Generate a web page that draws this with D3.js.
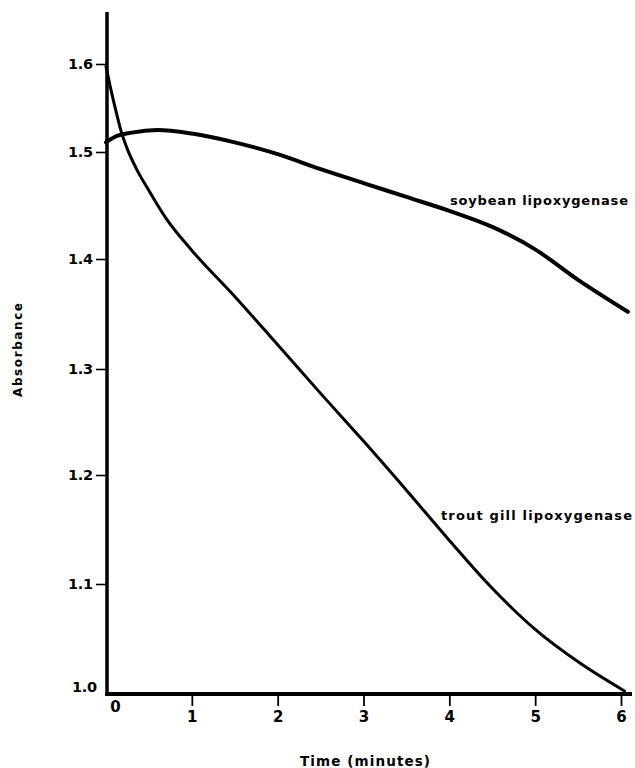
<!DOCTYPE html>
<html>
<head>
<meta charset="utf-8">
<script src="https://cdn.jsdelivr.net/npm/d3@7"></script>
<style>
  body { margin: 0; background: #fff; }
  svg text { font-family: "DejaVu Sans", "Liberation Sans", sans-serif; font-weight: bold; fill: #000; }
</style>
</head>
<body>
<div id="chart"></div>
<script>
// values
var soyTime  = [0, 0.1, 0.3, 0.6, 1.0, 1.5, 2.0, 2.5, 3.0, 3.5, 4.0, 4.5, 5.0, 5.5, 6.08];
var soyAbs   = [1.511, 1.517, 1.522, 1.525, 1.521, 1.511, 1.498, 1.484, 1.471, 1.458, 1.445, 1.430, 1.409, 1.381, 1.352];

var troutTime = [0, 0.05, 0.1, 0.175, 0.25, 0.35, 0.5, 0.7, 1.0, 1.5, 2.0, 2.5, 3.0, 3.5, 4.0, 4.5, 5.0, 5.5, 6.04];
var troutAbs  = [1.597, 1.574, 1.553, 1.524, 1.503, 1.485, 1.464, 1.438, 1.408, 1.366, 1.322, 1.277, 1.232, 1.186, 1.140, 1.096, 1.058, 1.028, 1.001];

var xTicks = [0, 1, 2, 3, 4, 5, 6];
var yTicks = [1.0, 1.1, 1.2, 1.3, 1.4, 1.5, 1.6];

var seriesLabels = ["soybean lipoxygenase", "trout gill lipoxygenase"];

var width = 635, height = 768;

var svg = d3.select("#chart").append("svg")
    .attr("width", width)
    .attr("height", height);

// Scales (the hand-drawn y axis is not quite evenly spaced)
var x = d3.scaleLinear()
    .domain([0, 6])
    .range([106, 621]);

var y = d3.scaleLinear()
    .domain(yTicks)
    .range([692, 584, 475, 369, 259, 152, 64]);

// y axis
var yAxis = svg.append("g")
    .attr("transform", "translate(107,0)")
    .call(d3.axisLeft(y)
      .tickValues(yTicks)
      .tickSize(11)
      .tickPadding(3)
      .tickFormat(d3.format(".1f")));

yAxis.select(".domain").remove();
yAxis.selectAll(".tick line").attr("stroke-width", 1.6);
yAxis.selectAll(".tick text")
    .attr("font-size", 14.5)
    .attr("textLength", 25)
    .attr("lengthAdjust", "spacing");
yAxis.selectAll(".tick").filter(function(d) { return d === 1.0; })
    .select("line").remove();
yAxis.selectAll(".tick").filter(function(d) { return d === 1.0; })
    .select("text").attr("dy", "-0.05em").attr("x", -10);

svg.append("line")
    .attr("x1", 107).attr("x2", 107)
    .attr("y1", 12).attr("y2", 696)
    .attr("stroke", "#000")
    .attr("stroke-width", 3.5);

// x axis
var xAxis = svg.append("g")
    .attr("transform", "translate(0,694)")
    .call(d3.axisBottom(x)
      .tickValues(xTicks)
      .tickSize(12)
      .tickPadding(5)
      .tickFormat(d3.format("d")));

xAxis.select(".domain").remove();
xAxis.selectAll(".tick line").attr("stroke-width", 1.8);
xAxis.selectAll(".tick text").attr("font-size", 15);
xAxis.selectAll(".tick").filter(function(d) { return d === 0; })
    .select("line").remove();
xAxis.selectAll(".tick").filter(function(d) { return d === 0; })
    .select("text").attr("y", 7).attr("dx", 9);

svg.append("line")
    .attr("x1", 105).attr("x2", 632)
    .attr("y1", 694).attr("y2", 694)
    .attr("stroke", "#000")
    .attr("stroke-width", 4);

// curves
var line = d3.line()
    .x(function(d) { return x(d[0]); })
    .y(function(d) { return y(d[1]); })
    .curve(d3.curveMonotoneX);

svg.append("path")
    .datum(d3.zip(soyTime, soyAbs))
    .attr("d", line)
    .attr("fill", "none")
    .attr("stroke", "#000")
    .attr("stroke-width", 4)
    .attr("stroke-linecap", "round");

svg.append("path")
    .datum(d3.zip(troutTime, troutAbs))
    .attr("d", line)
    .attr("fill", "none")
    .attr("stroke", "#000")
    .attr("stroke-width", 3)
    .attr("stroke-linecap", "round");

// series labels
svg.append("text")
    .attr("x", 450).attr("y", 205)
    .attr("font-size", 13)
    .attr("textLength", 178)
    .attr("lengthAdjust", "spacing")
    .text(seriesLabels[0]);

svg.append("text")
    .attr("x", 441).attr("y", 520)
    .attr("font-size", 13)
    .attr("textLength", 191)
    .attr("lengthAdjust", "spacing")
    .text(seriesLabels[1]);

// axis titles
svg.append("text")
    .attr("x", 300).attr("y", 766)
    .attr("font-size", 13.5)
    .attr("textLength", 130)
    .attr("lengthAdjust", "spacing")
    .text("Time (minutes)");

svg.append("text")
    .attr("transform", "translate(22,350) rotate(-90)")
    .attr("text-anchor", "middle")
    .attr("font-size", 12)
    .attr("textLength", 94)
    .attr("lengthAdjust", "spacing")
    .text("Absorbance");
</script>
</body>
</html>
